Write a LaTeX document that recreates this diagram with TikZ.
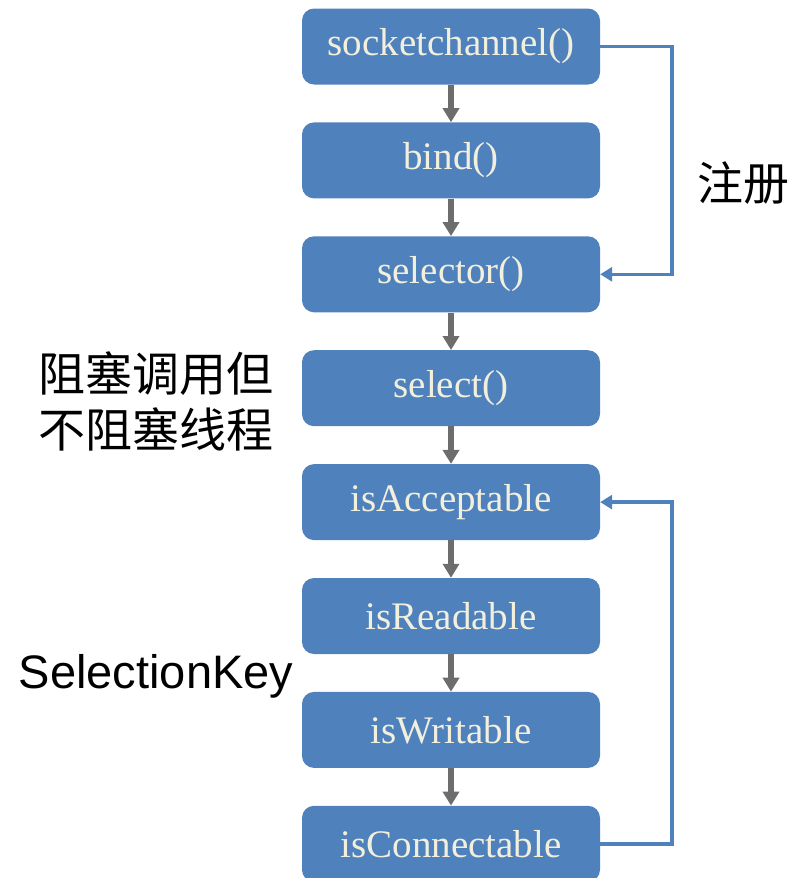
\documentclass[tikz,border=0pt]{standalone}
\usepackage{fontspec}
\setmainfont{Liberation Serif}
\newfontfamily\cjkfont{Noto Sans CJK SC}
\newfontfamily\keyfont{Liberation Sans}
\usepackage{tikz}
\usetikzlibrary{shapes,arrows.meta,positioning}
\definecolor{boxblue}{HTML}{4F81BD}
\definecolor{boxtext}{HTML}{F3EFDD}
\definecolor{flowgray}{HTML}{6D6D6D}

\begin{document}
\begin{tikzpicture}[x=1pt,y=1pt,
    stepbox/.style={fill=boxblue,
        rounded corners=12pt,
        minimum width=298pt,
        minimum height=76pt,
        text=boxtext,
        font=\fontsize{39}{42}\selectfont},
    flow/.style={-{Triangle[width=16pt,length=14pt]},line width=6pt,flowgray},
    loop/.style={-{Triangle[width=14pt,length=12pt]},line width=3.5pt,boxblue}]

\useasboundingbox (0,0) rectangle (797,-878);

% Socket channel
\node[stepbox] (block1) at (451,-46.5) {socketchannel()};

% Bind
\node[stepbox,below=37.5pt of block1] (block2) {bind()};

% Selector
\node[stepbox,below=37.5pt of block2] (block3) {selector()};

% Select
\node[stepbox,below=37.5pt of block3] (block4) {select()};

% Keys
\node[stepbox,below=37.5pt of block4] (block5) {isAcceptable};

\node[stepbox,below=37.5pt of block5] (block6) {isReadable};

\node[stepbox,below=37.5pt of block6] (block7) {isWritable};

\node[stepbox,below=37.5pt of block7] (block8) {isConnectable};

% Labels
\node[font=\cjkfont\fontsize{47}{56}\selectfont,
    align=center] (label1) at (156,-401) {阻塞调用但\\不阻塞线程};

\node[font=\cjkfont\fontsize{46}{56}\selectfont] (label2) at (743,-183) {注册};

\node[font=\keyfont\fontsize{47}{52}\selectfont] (label3) at (156,-676) {SelectionKey};

% Arrows
\draw[flow] (block1) edge (block2)
    (block2) edge (block3)
    (block3) edge (block4)
    (block4) edge (block5)
    (block5) edge (block6)
    (block6) edge (block7)
    (block7) edge (block8);

\draw[loop] (block1.east) -- ++(72,0) |- (block3.east);

\draw[loop] (block8.east) -- ++(72,0) |- (block5.east);

\end{tikzpicture}
\end{document}
